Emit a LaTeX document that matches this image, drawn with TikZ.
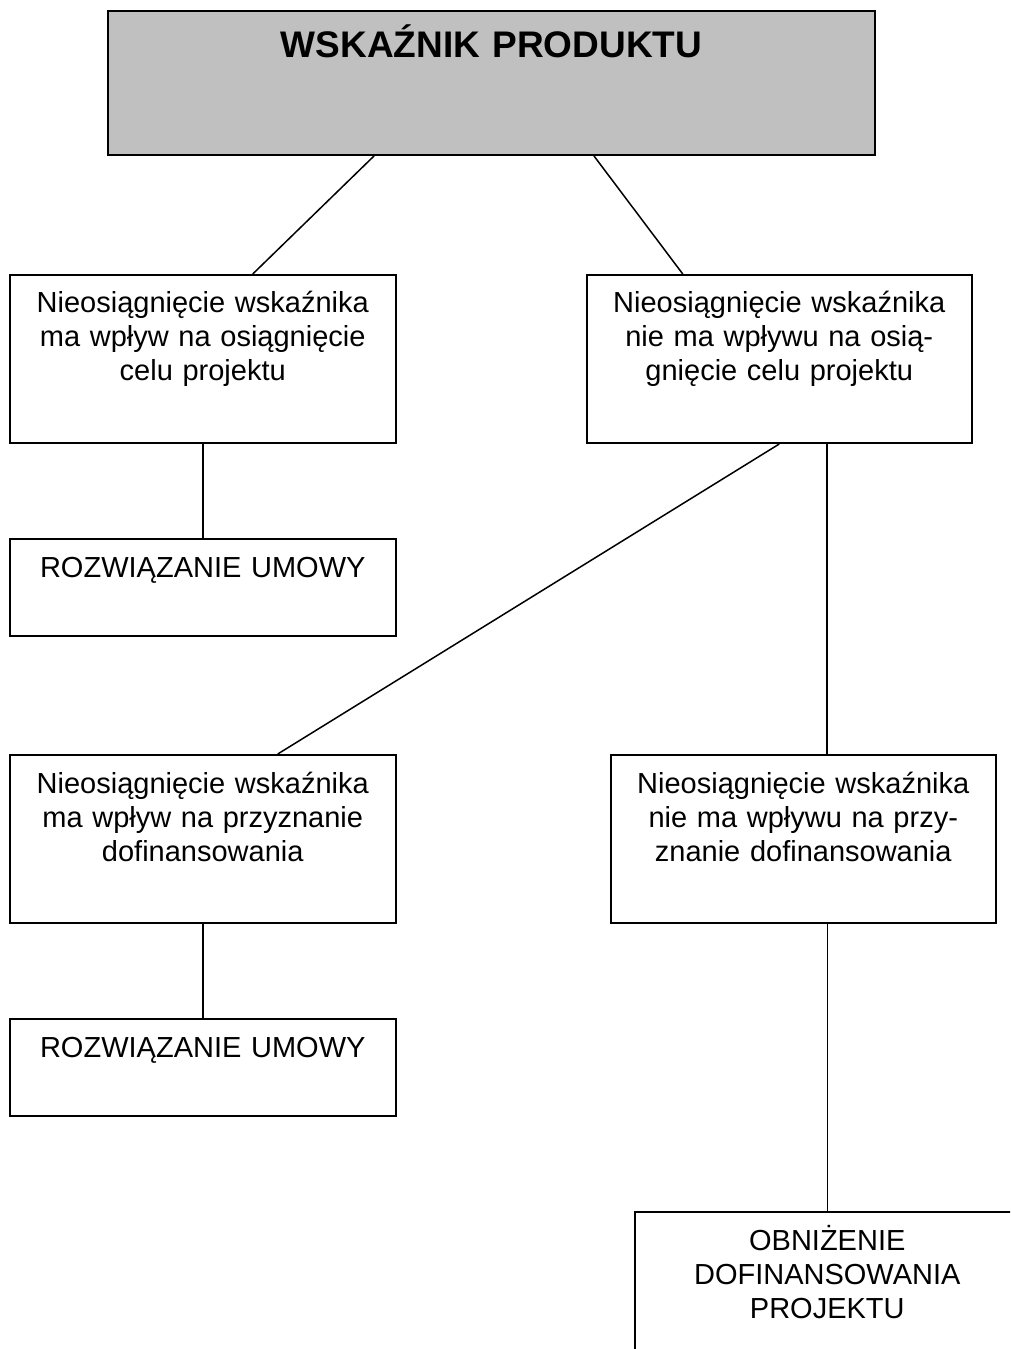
\documentclass[tikz,border=0pt]{standalone}
\usepackage{fontspec}
\setmainfont{Liberation Sans}
\usetikzlibrary{positioning, calc}
\definecolor{headgray}{HTML}{C0C0C0}

\begin{document}
\begin{tikzpicture}[
  node distance=37.6pt,
  card/.style={draw, line width=0.8pt, inner sep=0pt, text width=154.2pt,
               align=center, text height=15.2pt, text depth=52pt,
               font=\fontsize{11.6pt}{13.6pt}\selectfont},
  shortcard/.style={card, text depth=23.6pt},
  link/.style={line width=0.6pt}
]
  \useasboundingbox (0,0) rectangle (404pt,-539.6pt);
  \clip (0,0) rectangle (404pt,-539.6pt);

  % Header
  \node[card, fill=headgray, text width=306.8pt, text height=18.8pt,
        text depth=38.8pt, anchor=north west,
        font=\fontsize{14.8pt}{17pt}\selectfont\bfseries]
    (indicator) at (42.8pt,-4pt) {WSKAŹNIK PRODUKTU};

  % Goal of the project
  \node[card, anchor=north west] (goalyes) at (3.6pt,-109.6pt)
    {Nieosiągnięcie wskaźnika\\ ma wpływ na osiągnięcie\\ celu projektu};
  \node[card, right=75.6pt of goalyes] (goalno)
    {Nieosiągnięcie wskaźnika\\ nie ma wpływu na osią-\\ gnięcie celu projektu};
  \node[shortcard, below=of goalyes] (termfirst) {ROZWIĄZANIE UMOWY};

  % Co-financing
  \node[card, below=46.8pt of termfirst] (fundyes)
    {Nieosiągnięcie wskaźnika\\ ma wpływ na przyznanie\\ dofinansowania};
  \node[card, right=85.2pt of fundyes] (fundno)
    {Nieosiągnięcie wskaźnika\\ nie ma wpływu na przy-\\ znanie dofinansowania};
  \node[shortcard, below=of fundyes] (termsecond) {ROZWIĄZANIE UMOWY};
  \node[card, below=114.8pt of fundno.south, xshift=9.6pt] (reduction)
    {OBNIŻENIE\\ DOFINANSOWANIA\\ PROJEKTU};

  % Links
  \draw[link] ([xshift=-47pt]indicator.south) -- ([xshift=20pt]goalyes.north);
  \draw[link] ([xshift=41pt]indicator.south) -- ([xshift=-38.6pt]goalno.north);
  \draw[link] (goalyes.south) -- (termfirst.north);
  \draw[link] (goalno.south) -- ([xshift=30pt]fundyes.north);
  \draw[link] ([xshift=19pt]goalno.south) -- ([xshift=19pt]goalno.south |- fundno.north);
  \draw[link] (fundyes.south) -- (termsecond.north);
  \draw[link] (reduction.north |- fundno.south) -- (reduction.north);
\end{tikzpicture}
\end{document}
